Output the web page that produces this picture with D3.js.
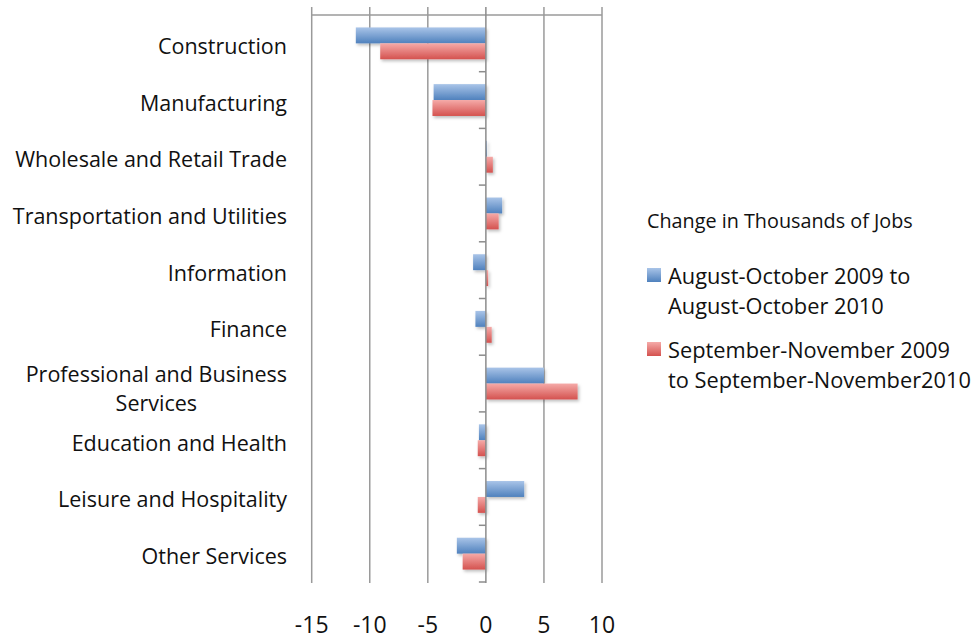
<!DOCTYPE html>
<meta charset="utf-8">
<script src="https://d3js.org/d3.v7.min.js"></script>
<style>
  body { margin: 0; background: #fff; }
  svg text { font-family: "Open Sans", sans-serif; fill: #111; }
</style>
<body>
<div id="chart"></div>
<script>
// categories, top to bottom
var categories = [
  "Construction", "Manufacturing", "Wholesale and Retail Trade",
  "Transportation and Utilities", "Information", "Finance",
  "Professional and Business Services", "Education and Health",
  "Leisure and Hospitality", "Other Services"
];
// change in thousands of jobs
var augOct = [-11.2, -4.5, 0.1, 1.4, -1.1, -0.9, 5.0, -0.6, 3.3, -2.5];
var sepNov = [-9.1, -4.6, 0.6, 1.1, 0.2, 0.5, 7.9, -0.7, -0.7, -2.0];
var seriesNames = ["August-October 2009 to August-October 2010",
                   "September-November 2009 to September-November2010"];
var xTicks = [-15, -10, -5, 0, 5, 10];
var legendTitle = "Change in Thousands of Jobs";

var width = 975, height = 639;
var plot = {left: 311.7, right: 602, top: 15, bottom: 582};

var svg = d3.select("#chart").append("svg")
    .attr("width", width)
    .attr("height", height);

var defs = svg.append("defs");
function grad(id, c1, c2) {
  var g = defs.append("linearGradient").attr("id", id)
    .attr("x1", 0).attr("y1", 0).attr("x2", 0).attr("y2", 1);
  g.append("stop").attr("offset", "0%").attr("stop-color", c1);
  g.append("stop").attr("offset", "100%").attr("stop-color", c2);
}
grad("gBlue", "#a9c4e8", "#4f81bd");
grad("gRed", "#f5aaa8", "#d4524f");
var sh = defs.append("filter").attr("id", "shadow")
  .attr("x", "-10%").attr("y", "-20%").attr("width", "130%").attr("height", "160%");
sh.append("feDropShadow").attr("dx", 1.5).attr("dy", 2).attr("stdDeviation", 1.5)
  .attr("flood-color", "#000").attr("flood-opacity", 0.25);

var x = d3.scaleLinear().domain([-15, 10]).range([plot.left, plot.right]);
var y = d3.scaleBand().domain(categories).range([plot.top, plot.bottom]);
var sub = d3.scaleBand().domain([0, 1]).range([0, y.bandwidth()]).paddingOuter(0.78);

// vertical gridlines with ticks above the top line
svg.append("g").selectAll("line")
  .data(xTicks.filter(d => d !== 0))
  .join("line")
    .attr("x1", d => x(d)).attr("x2", d => x(d))
    .attr("y1", plot.top - 8).attr("y2", plot.bottom + 1)
    .attr("stroke", "#9a9a9a").attr("stroke-width", 1.5);

svg.append("line")
  .attr("x1", plot.left).attr("x2", plot.right)
  .attr("y1", plot.top).attr("y2", plot.top)
  .attr("stroke", "#9a9a9a").attr("stroke-width", 1.5);

// bars
var rows = categories.map((c, i) => ({cat: c, vals: [augOct[i], sepNov[i]]}));
var fills = ["url(#gBlue)", "url(#gRed)"];
var barG = svg.append("g").attr("filter", "url(#shadow)");
rows.forEach(function(r) {
  r.vals.forEach(function(v, j) {
    barG.append("rect")
      .attr("x", x(Math.min(0, v)))
      .attr("width", Math.abs(x(v) - x(0)))
      .attr("y", y(r.cat) + sub(j))
      .attr("height", sub.bandwidth())
      .attr("fill", fills[j]);
  });
});

// category axis at zero
var catAxis = svg.append("g");
catAxis.append("line")
  .attr("x1", x(0)).attr("x2", x(0))
  .attr("y1", plot.top - 8).attr("y2", plot.bottom + 1)
  .attr("stroke", "#8c8c8c").attr("stroke-width", 1.5);
catAxis.selectAll("line.tk")
  .data(categories.slice(1).map(c => y(c)).concat([plot.bottom]))
  .join("line").attr("class", "tk")
    .attr("x1", x(0) - 7).attr("x2", x(0))
    .attr("y1", d => d).attr("y2", d => d)
    .attr("stroke", "#8c8c8c").attr("stroke-width", 1.5);

// category labels
var wrap = {"Professional and Business Services": ["Professional and Business", "Services"]};
var lab = svg.append("g").style("font-size", "21.5px");
categories.forEach(function(c) {
  var lines = wrap[c] || [c];
  var cy = y(c) + y.bandwidth() / 2 + (lines.length > 1 ? 5 : 3);
  var t = lab.append("text");
  lines.forEach(function(l, k) {
    t.append("tspan")
      .attr("y", cy - (lines.length - 1) * 14.5 + k * 29)
      .attr("dy", "0.35em").text(l);
  });
  if (lines.length === 1) {
    t.attr("text-anchor", "end");
    t.selectAll("tspan").attr("x", 287);
  } else {
    var w = 0;
    t.selectAll("tspan").each(function() { w = Math.max(w, this.getComputedTextLength()); });
    t.attr("text-anchor", "middle");
    t.selectAll("tspan").attr("x", 287 - w / 2);
  }
});

// x tick labels
svg.append("g").style("font-size", "23px")
  .selectAll("text").data(xTicks).join("text")
    .attr("x", d => x(d)).attr("y", 625).attr("dy", "0.35em")
    .attr("text-anchor", "middle")
    .text(d => d);

// legend
var leg = svg.append("g");
leg.append("text").attr("x", 647).attr("y", 221).attr("dy", "0.35em")
  .style("font-size", "19.8px").text(legendTitle);
var legLines = [["August-October 2009 to", "August-October 2010"],
                ["September-November 2009", "to September-November2010"]];
var legY = [275, 349];
legLines.forEach(function(ls, i) {
  leg.append("rect").attr("x", 647).attr("y", legY[i] - 7)
    .attr("width", 14).attr("height", 14).attr("fill", fills[i]);
  ls.forEach(function(l, k) {
    leg.append("text").attr("x", 668).attr("y", legY[i] + 1 + k * 30).attr("dy", "0.35em")
      .style("font-size", "21.8px").text(l);
  });
});
</script>
</body>
